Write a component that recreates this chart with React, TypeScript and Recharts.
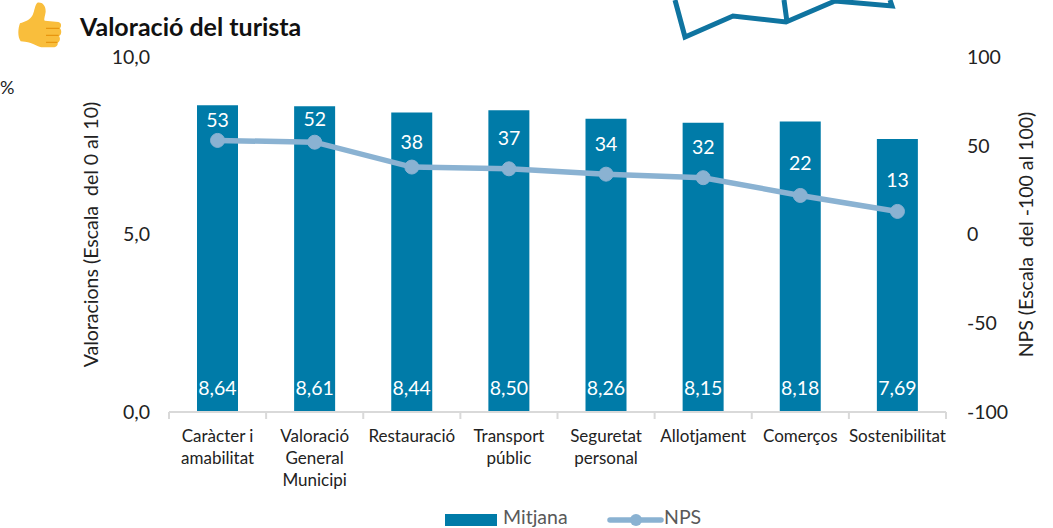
import React from "react";
import { ComposedChart, Bar, Line, XAxis, YAxis, Legend, LabelList } from "recharts";

const categories = [
  "Caràcter i|amabilitat",
  "Valoració|General|Municipi",
  "Restauració",
  "Transport|públic",
  "Seguretat|personal",
  "Allotjament",
  "Comerços",
  "Sostenibilitat",
];
const mitjana = [8.64, 8.61, 8.44, 8.5, 8.26, 8.15, 8.18, 7.69];
const nps = [53, 52, 38, 37, 34, 32, 22, 13];
const npsLabelLift = [20, 23, 25, 31, 30, 31, 32, 31];
const leftTicks = [0, 5, 10];
const rightTicks = [-100, -50, 0, 50, 100];

const data = categories.map((c, i) => ({ cat: c, Mitjana: mitjana[i], NPS: nps[i] }));

const FONT = "Lato, Carlito, sans-serif";
const BAR = "#007BA8";
const LINE = "#8AB2D2";
const TXT = "#222222";
const BAND = 777 / 8;
const FS = 19.5;

const CatTick = (p: any) => {
  const { x, payload, index } = p;
  const lines = String(payload.value).split("|");
  return (
    <g>
      <line x1={x - BAND / 2} x2={x - BAND / 2} y1={412} y2={419} stroke="#D9D9D9" strokeWidth={2} />
      {index === categories.length - 1 && (
        <line x1={x + BAND / 2} x2={x + BAND / 2} y1={412} y2={419} stroke="#D9D9D9" strokeWidth={2} />
      )}
      {lines.map((l: string, i: number) => (
        <text key={i} x={x} y={442 + i * 22} textAnchor="middle" fontSize={17} fontFamily={FONT} fill={TXT}>
          {l}
        </text>
      ))}
    </g>
  );
};

const BarValue = (p: any) => {
  const { x, width, value } = p;
  return (
    <text x={x + width / 2} y={395} textAnchor="middle" fontSize={FS} fontFamily={FONT} fill="#FFFFFF">
      {Number(value).toFixed(2).replace(".", ",")}
    </text>
  );
};

const NpsValue = (p: any) => {
  const { x, y, value, index } = p;
  return (
    <text x={x} y={y - npsLabelLift[index] + 7} textAnchor="middle" fontSize={FS} fontFamily={FONT} fill="#FFFFFF">
      {value}
    </text>
  );
};

const LegendContent = () => (
  <svg width={1053} height={24} style={{ display: "block" }}>
    <rect x={445} y={10} width={52} height={12} fill={BAR} />
    <text x={503} y={20} fontSize={19.5} fontFamily={FONT} fill="#595959">Mitjana</text>
    <line x1={610} x2={661} y1={16} y2={16} stroke={LINE} strokeWidth={5.5} strokeLinecap="round" />
    <circle cx={636} cy={16} r={6} fill={LINE} />
    <text x={664} y={20} fontSize={19.5} fontFamily={FONT} fill="#595959">NPS</text>
  </svg>
);

const ThumbsUp = () => (
  <svg width={60} height={50} style={{ position: "absolute", left: 10, top: 0 }} viewBox="0 0 180 150">
    <path
      d="M30 70 C45 65 60 60 68 45 C74 30 75 15 82 8 C95 5 108 15 107 35 C105 50 100 60 105 62 L145 66 C155 68 155 80 150 85 C156 92 155 105 147 108 C152 115 150 125 143 128 C145 135 138 142 130 142 L100 142 C85 142 70 128 45 125 L32 124 C22 110 24 85 30 70 Z"
      fill="#F9BE3C"
    />
    <path d="M108 85 H148 M108 106 H146 M108 127 H142" stroke="#E8960F" strokeWidth={4} fill="none" />
  </svg>
);

const MapFragment = () => (
  <svg width={1053} height={60} style={{ position: "absolute", left: 0, top: 0 }}>
    <path
      d="M675 0 L685 37 L733 16 L786 22 L835 1 L892 6 L890 0 M784 0 L787 22"
      fill="none"
      stroke="#0F74A0"
      strokeWidth={5}
    />
  </svg>
);

export default function App() {
  return (
    <div style={{ position: "absolute", left: 0, top: 0, width: 1053, height: 528, background: "#fff", overflow: "hidden" }}>
      <MapFragment />
      <ThumbsUp />
      <div style={{ position: "absolute", left: 80, top: 11, fontFamily: FONT, fontWeight: 700, fontSize: 25, lineHeight: "30px", color: "#111" }}>
        Valoració del turista
      </div>
      <div style={{ position: "absolute", left: 0, top: 77, fontFamily: FONT, fontSize: 18, lineHeight: "20px", color: TXT }}>%</div>
      <div style={{ position: "absolute", left: 0, top: 0 }}>
        <ComposedChart
          width={1053}
          height={528}
          data={data}
          barCategoryGap="0%"
          margin={{ top: 57, right: 0, bottom: 0, left: 0 }}
        >
          <XAxis
            dataKey="cat"
            interval={0}
            height={92}
            tick={CatTick}
            tickLine={false}
            axisLine={{ stroke: "#D9D9D9", strokeWidth: 2 }}
          />
          <YAxis
            yAxisId="left"
            width={169}
            domain={[0, 10]}
            ticks={leftTicks}
            interval={0}
            axisLine={false}
            tickLine={false}
            tickMargin={13}
            tickFormatter={(v: number) => v.toFixed(1).replace(".", ",")}
            tick={{ fontSize: FS, fontFamily: FONT, fill: TXT }}
            label={{
              value: "Valoracions (Escala\u00A0 del 0 al 10)",
              angle: -90,
              position: "center",
              dx: 7,
              style: { fontSize: FS, fontFamily: FONT, fill: TXT },
            }}
          />
          <YAxis
            yAxisId="right"
            orientation="right"
            width={107}
            domain={[-100, 100]}
            ticks={rightTicks}
            interval={0}
            axisLine={false}
            tickLine={false}
            tickMargin={15}
            tick={{ fontSize: FS, fontFamily: FONT, fill: TXT }}
            label={{
              value: "NPS (Escala\u00A0 del -100 al 100)",
              angle: -90,
              position: "center",
              dx: 27,
              style: { fontSize: FS, fontFamily: FONT, fill: TXT },
            }}
          />
          <Legend verticalAlign="bottom" height={24} content={LegendContent} />
          <Bar yAxisId="left" dataKey="Mitjana" fill={BAR} barSize={41} isAnimationActive={false}>
            <LabelList dataKey="Mitjana" content={BarValue} />
          </Bar>
          <Line
            yAxisId="right"
            dataKey="NPS"
            stroke={LINE}
            strokeWidth={5.5}
            dot={{ r: 7, fill: LINE, stroke: LINE, strokeWidth: 1 }}
            isAnimationActive={false}
          >
            <LabelList dataKey="NPS" content={NpsValue} />
          </Line>
        </ComposedChart>
      </div>
    </div>
  );
}
